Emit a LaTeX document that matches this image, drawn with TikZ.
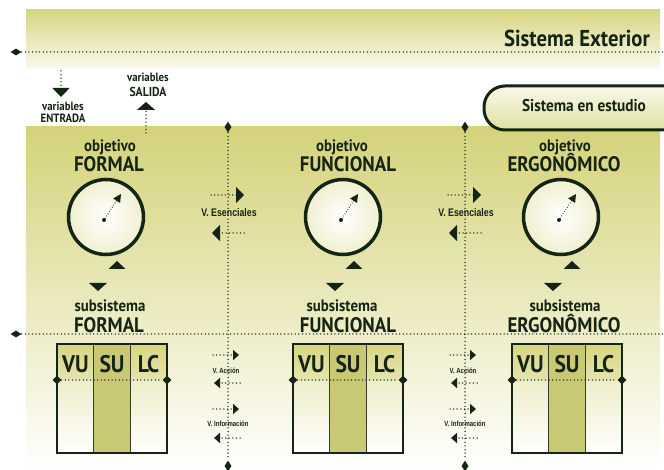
\documentclass[tikz,border=0pt]{standalone}
\usepackage{fontspec}
\setmainfont{PT Sans}[FakeStretch=0.9]
\newfontfamily\narrowfont[FakeStretch=0.8]{Liberation Sans}
\usetikzlibrary{arrows.meta,shapes.geometric}
\definecolor{ol}{RGB}{212,211,122}
\definecolor{dk}{RGB}{22,36,20}
\tikzset{
  dots/.style={dk, line width=1.5pt, line cap=round, dash pattern=on 0pt off 3.6pt},
  vdia/.style={diamond, fill=dk, inner sep=0pt, minimum width=7pt, minimum height=11pt},
  hdia/.style={diamond, fill=dk, inner sep=0pt, minimum width=11pt, minimum height=7pt},
  sdia/.style={diamond, fill=dk, inner sep=0pt, minimum width=9pt, minimum height=9pt},
  txt/.style={text=dk, inner sep=0pt, anchor=base},
  big/.style={txt, font=\fontsize{21}{21}\selectfont\bfseries},
  mid/.style={txt, font=\fontsize{16.5}{16.5}\selectfont\bfseries},
  sml/.style={txt, font=\fontsize{12}{12}\selectfont\bfseries},
  cell/.style={txt, font=\fontsize{24}{24}\selectfont\bfseries},
  vess/.style={txt, font=\fontsize{11}{11}\narrowfont\bfseries},
  vsm/.style={txt, font=\fontsize{7.5}{7.5}\narrowfont\bfseries},
  bigtip/.style={-{Triangle[length=8pt,width=16pt]}},
  smtip/.style={-{Triangle[length=6pt,width=10pt]}},
}
\begin{document}
\begin{tikzpicture}[x=1pt,y=-1pt]
\useasboundingbox (0,0) rectangle (664,470);
\clip (0,0) rectangle (664,470);
\fill[white] (0,0) rectangle (664,470);
% exterior band
\shade[top color=ol!95, bottom color=ol!12] (26,10) rectangle (660,69);
% study panel
\shade[top color=ol, middle color=ol!50, bottom color=white] (26,127) rectangle (660,470);
% pill
\shade[top color=ol!15, bottom color=ol!70, draw=dk, line width=3pt, rounded corners=21pt] (484,86) rectangle (720,130);
\node[txt, font=\fontsize{17}{17}\selectfont\bfseries] (est) at (584,112) {Sistema en estudio};
\node[txt, anchor=base east, font=\fontsize{23}{23}\selectfont\bfseries] (ext) at (650,47) {Sistema Exterior};
% top dotted line
\node[hdia] (d1) at (16,52) {};
\coordinate (d1e) at (666,52);
\draw[dots] (d1) -- (d1e);
% variables entrada / salida
\coordinate (ein) at (61,71);
\coordinate (eout) at (61,97);
\draw[dots, -{Triangle[length=9pt,width=17pt]}] (ein) -- (eout);
\node[sml] (v1) at (63,111) {variables};
\node[sml] (v2) at (63,123) {ENTRADA};
\coordinate (sin) at (146,133);
\coordinate (sout) at (146,102);
\draw[dots, -{Triangle[length=8pt,width=18pt]}] (sin) -- (sout);
\node[sml] (v3) at (148,82) {variables};
\node[sml, font=\fontsize{13}{13}\selectfont\bfseries] (v4) at (148,97) {SALIDA};
% lower dotted line
\node[hdia] (d2) at (16,334) {};
\coordinate (d2e) at (666,334);
\draw[dots] (d2) -- (d2e);
% columns
\foreach \ox/\tx/\cx/\tb/\nm/\lab in {110/109/106/57/a/FORMAL, 342/348/343/293/b/FUNCIONAL, 565/564/561/512/c/ERGONÔMICO}{
  \node[mid] (obj-\nm) at (\ox,152) {objetivo};
  \node[big] (tit-\nm) at (\tx,172) {\lab};
  \node[circle, draw=dk, line width=3.5pt, minimum size=75pt, inner sep=0pt, inner color=white, outer color=ol!35] (dial-\nm) at (\cx,217) {};
  \node[circle, fill=dk, inner sep=0pt, minimum size=4pt] (dot-\nm) at ({\cx-2},220) {};
  \coordinate (tip-\nm) at ({\cx+15},194);
  \draw[dk, line width=1.2pt, line cap=round, dash pattern=on 0pt off 2.6pt, -{Triangle[length=8pt,width=8pt]}] (dot-\nm) -- (tip-\nm);
  \fill[dk] ({\cx+2.5},269) -- ({\cx+19.5},269) -- ({\cx+11},261) -- cycle;
  \fill[dk] ({\cx-17},283) -- ({\cx+1},283) -- ({\cx-8},291) -- cycle;
  \node[mid] (sub-\nm) at (\ox,312) {subsistema};
  \node[big] (sut-\nm) at (\tx,333) {\lab};
  % table
  \shade[top color=ol!95, bottom color=ol!60] (\tb,344) rectangle ({\tb+36.7},380);
  \shade[top color=ol!40, bottom color=white] (\tb,380) rectangle ({\tb+36.7},453);
  \fill[ol!95!black] ({\tb+36.7},344) rectangle ({\tb+73.3},453);
  \shade[top color=ol!95, bottom color=ol!60] ({\tb+73.3},344) rectangle ({\tb+110},380);
  \shade[top color=ol!40, bottom color=white] ({\tb+73.3},380) rectangle ({\tb+110},453);
  \draw[dk!85!ol, line width=1pt] ({\tb+36.7},344) -- ({\tb+36.7},453) ({\tb+73.3},344) -- ({\tb+73.3},453);
  \draw[dk, line width=2.5pt] (\tb,344) rectangle ({\tb+110},453);
  \node[cell] (vu-\nm) at ({\tb+18.5},372) {VU};
  \node[cell] (su-\nm) at ({\tb+55},372) {SU};
  \node[cell] (lc-\nm) at ({\tb+91.5},372) {LC};
  \node[sdia] (tl-\nm) at (\tb,380) {};
  \node[sdia] (tr-\nm) at ({\tb+110},380) {};
  \draw[dots] (tl-\nm) -- (tr-\nm);
}
% separators
\foreach \L/\i in {228/1, 465/2}{
  \node[vdia] (vt-\i) at (\L,127) {};
  \node[vdia] (vb-\i) at (\L,466) {};
  \draw[dots] (vt-\i) -- (vb-\i);
  \draw[dots, bigtip] ({\L-17},195) coordinate (e1-\i) -- ({\L+16},195) coordinate (e2-\i);
  \node[vess] (ves-\i) at ({\L+1},217) {V. Esenciales};
  \draw[dots, bigtip] ({\L+16},233) coordinate (e3-\i) -- ({\L-16},233) coordinate (e4-\i);
  \draw[dots, smtip] ({\L-15},355) coordinate (a1-\i) -- ({\L+11},355) coordinate (a2-\i);
  \node[vsm] (vac-\i) at ({\L-2},373) {V. Acción};
  \draw[dots, smtip] ({\L+12},383) coordinate (a3-\i) -- ({\L-14},383) coordinate (a4-\i);
  \draw[dots, smtip] ({\L-15},409) coordinate (i1-\i) -- ({\L+11},409) coordinate (i2-\i);
  \node[vsm] (vin-\i) at ({\L},426) {V. Información};
  \draw[dots, smtip] ({\L+12},438) coordinate (i3-\i) -- ({\L-14},438) coordinate (i4-\i);
}
\end{tikzpicture}
\end{document}
